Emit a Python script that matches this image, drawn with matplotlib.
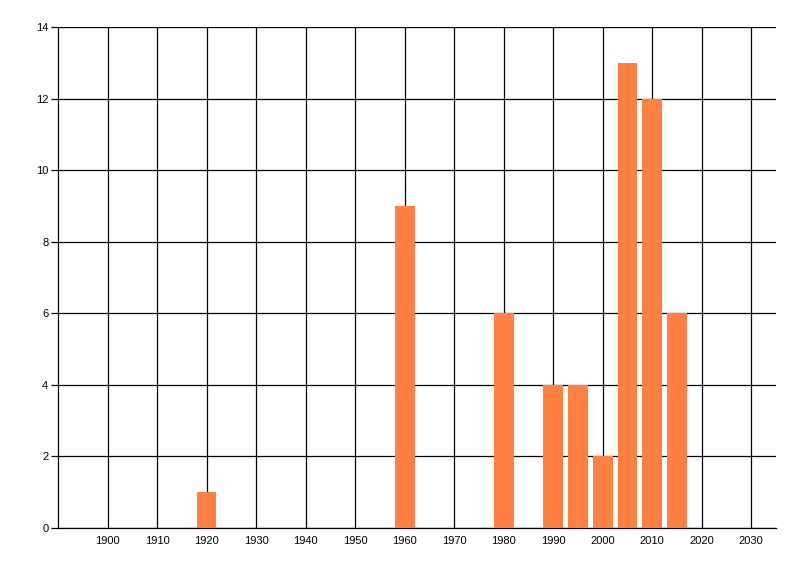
import matplotlib.pyplot as plt

# Data
years = [1920, 1960, 1980, 1990, 1995, 2000, 2005, 2010, 2015]
counts = [1, 9, 6, 4, 4, 2, 13, 12, 6]
x_ticks = list(range(1900, 2031, 10))
y_ticks = list(range(0, 15, 2))

plt.rcParams['font.family'] = ['Liberation Sans', 'DejaVu Sans']

fig = plt.figure(figsize=(8, 5.76), dpi=100)
ax = fig.add_axes([0.0725, 0.0833, 0.8975, 0.8697])

ax.bar(years, counts, width=4.0, color='#FF8040', zorder=3)

ax.set_xlim(1890, 2035)
ax.set_ylim(0, 14)
ax.set_xticks(x_ticks)
ax.set_yticks(y_ticks)
ax.grid(True, color='black', linewidth=0.9, zorder=0)
ax.set_axisbelow(True)

for side in ['top', 'right']:
    ax.spines[side].set_visible(False)
ax.spines['left'].set_linewidth(0.9)
ax.spines['bottom'].set_linewidth(0.9)

ax.tick_params(axis='x', length=0, pad=6, labelsize=8)
ax.tick_params(axis='y', length=5, width=0.9, pad=2, labelsize=8)

plt.savefig('out.png', dpi=100)
